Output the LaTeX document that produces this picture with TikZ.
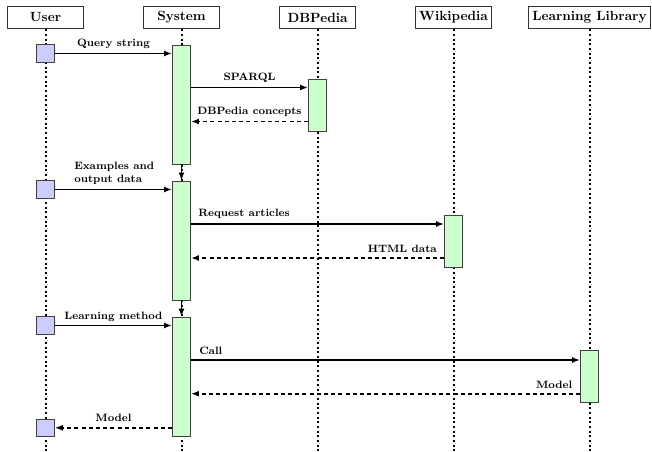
\documentclass[tikz,border=0pt]{standalone}
\usetikzlibrary{arrows.meta}
\begin{document}
\begin{tikzpicture}[x=0.75pt,y=-0.75pt,
  header/.style={draw=black!80, line width=0.7pt, fill=white, font=\bfseries, minimum width=57pt, minimum height=17pt, inner sep=3pt},
  lifeline/.style={line width=1.5pt, dash pattern=on 1.6pt off 1.9pt, black},
  userbox/.style={draw=black!75, line width=0.7pt, fill=blue!20, minimum width=13.2pt, minimum height=13.2pt, inner sep=0pt},
  actbox/.style={draw=black!75, line width=0.7pt, fill=green!20, minimum width=13.5pt, inner sep=0pt},
  msg/.style={line width=1.2pt, -{Latex[length=6pt,width=4.5pt]}},
  ret/.style={msg, dash pattern=on 3pt off 2.4pt},
  lbl/.style={font=\footnotesize\bfseries, inner sep=0pt},
]
\useasboundingbox (0,0) rectangle (652,452);
% headers
\node[header] (hU) at (45.5,17.5) {User};
\node[header] (hS) at (181.5,17.5) {System};
\node[header] (hD) at (317.5,17.5) {DBPedia};
\node[header] (hW) at (453.5,17.5) {Wikipedia};
\node[header] (hL) at (589.5,17.5) {Learning Library};
% lifeline ends
\coordinate (eU) at (45.5,452);
\coordinate (eS) at (181.5,452);
\coordinate (eD) at (317.5,452);
\coordinate (eW) at (453.5,452);
\coordinate (eL) at (589.5,452);
\draw[lifeline] (hU.south) -- (eU);
\draw[lifeline] (hS.south) -- (eS);
\draw[lifeline] (hD.south) -- (eD);
\draw[lifeline] (hW.south) -- (eW);
\draw[lifeline] (hL.south) -- (eL);
% activation boxes
\node[actbox, minimum height=89.25pt] (s1) at (181.5,104.5) {};
\node[actbox, minimum height=89.25pt] (s2) at (181.5,240.5) {};
\node[actbox, minimum height=89.4pt] (s3) at (181.5,376.8) {};
\node[actbox, minimum height=39pt] (d1) at (317.5,105) {};
\node[actbox, minimum height=39pt] (w1) at (453.5,241) {};
\node[actbox, minimum height=39pt] (l1) at (589.5,376.7) {};
\node[userbox] (u1) at (45.5,53.5) {};
\node[userbox] (u2) at (45.5,189.5) {};
\node[userbox] (u3) at (45.5,325.5) {};
\node[userbox] (u4) at (45.5,427.8) {};
% chain arrows between system bars
\draw[msg] (s1.south) -- (s2.north);
\draw[msg] (s2.south) -- (s3.north);
% messages
\draw[msg] (u1.east) -- (s1.west |- u1.east);
\node[lbl, anchor=base] (t1) at (113.5,47) {Query string};
\draw[msg] (s1.east |- 0,87.5) -- (d1.west |- 0,87.5);
\node[lbl, anchor=base] (t2) at (249.5,81) {SPARQL};
\draw[ret] (d1.west |- 0,121.5) -- (s1.east |- 0,121.5);
\node[lbl, anchor=base] (t3) at (249.5,115) {DBPedia concepts};
\draw[msg] (u2.east) -- (s2.west |- u2.east);
\node[lbl, anchor=south west, align=left] (t4) at (74,185) {Examples and\\output data};
\draw[msg] (s2.east |- 0,224) -- (w1.west |- 0,224);
\node[lbl, anchor=base west] (t5) at (198,216.5) {Request articles};
\draw[ret] (w1.west |- 0,258) -- (s2.east |- 0,258);
\node[lbl, anchor=base east] (t6) at (437,252) {HTML data};
\draw[msg] (u3.east) -- (s3.west |- u3.east);
\node[lbl, anchor=base] (t7) at (113.5,319) {Learning method};
\draw[msg] (s3.east |- 0,360) -- (l1.west |- 0,360);
\node[lbl, anchor=base west] (t8) at (199,354.5) {Call};
\draw[ret] (l1.west |- 0,393.7) -- (s3.east |- 0,393.7);
\node[lbl, anchor=base east] (t9) at (572.5,388) {Model};
\draw[ret] (s3.west |- u4.east) -- (u4.east);
\node[lbl, anchor=base] (t10) at (113.5,421.5) {Model};
\end{tikzpicture}
\end{document}
